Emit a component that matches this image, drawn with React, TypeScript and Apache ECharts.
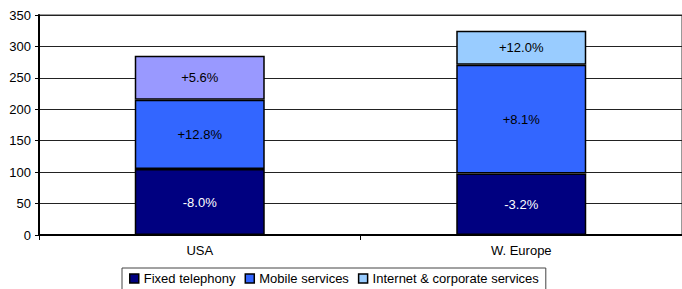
import React, { useEffect, useRef } from "react";
import * as echarts from "echarts";

const categories = ["USA", "W. Europe"];
const fixedValues = [105, 98];
const mobileValues = [110, 173];
const internetValues = [70, 54];
const fixedLabels = ["-8.0%", "-3.2%"];
const mobileLabels = ["+12.8%", "+8.1%"];
const internetLabels = ["+5.6%", "+12.0%"];
const internetPointColors = ["#9999FF", "#99CCFF"];
const seriesNames = ["Fixed telephony", "Mobile services", "Internet & corporate services"];
const seriesColors = ["#000080", "#3366FF", "#99CCFF"];

const FONT = "Liberation Sans, Arial, sans-serif";

export default function App() {
  const ref = useRef<HTMLDivElement>(null);
  useEffect(() => {
    if (!ref.current) return;
    const chart = echarts.init(ref.current, null, { renderer: "svg" });
    const mk = (vals: number[], labels: string[], idx: number, textColor: string, pointColors?: string[]) => ({
      name: seriesNames[idx],
      type: "bar",
      stack: "total",
      barWidth: 130,
      itemStyle: { color: seriesColors[idx], borderColor: "#000", borderWidth: 1.5 },
      label: {
        show: true,
        position: "inside",
        color: textColor,
        fontSize: 13,
        fontFamily: FONT,
        formatter: (p: any) => labels[p.dataIndex],
      },
      data: vals.map((v, i) => ({
        value: v,
        itemStyle: pointColors ? { color: pointColors[i] } : undefined,
      })),
    });
    chart.setOption({
      animation: false,
      textStyle: { fontFamily: FONT },
      grid: {
        left: 39,
        right: -9,
        top: 15,
        bottom: 54,
        show: true,
        borderColor: "#999",
        borderWidth: 2,
      },
      legend: {
        left: 122,
        top: 268,
        padding: [4, 7, 10, 7],
        borderColor: "#444",
        borderWidth: 1,
        itemWidth: 9,
        itemHeight: 9,
        itemGap: 9,
        icon: "rect",
        textStyle: { fontSize: 13, color: "#000", fontFamily: FONT },
        data: seriesNames.map((n, i) => ({
          name: n,
          itemStyle: { color: seriesColors[i], borderColor: "#000", borderWidth: 1.5 },
        })),
      },
      xAxis: {
        type: "category",
        data: categories,
        axisLine: { lineStyle: { color: "#000", width: 2 } },
        axisTick: { show: true, length: 5, lineStyle: { color: "#000" } },
        axisLabel: { color: "#000", fontSize: 13, fontFamily: FONT, margin: 9 },
      },
      yAxis: {
        type: "value",
        min: 0,
        max: 350,
        interval: 50,
        axisLine: { show: true, lineStyle: { color: "#000", width: 2 } },
        axisTick: { show: true, length: 4, lineStyle: { color: "#000" } },
        axisLabel: { color: "#000", fontSize: 13, fontFamily: FONT, margin: 8 },
        splitLine: { show: true, lineStyle: { color: "#222", width: 1 } },
      },
      series: [
        mk(fixedValues, fixedLabels, 0, "#fff"),
        mk(mobileValues, mobileLabels, 1, "#000"),
        mk(internetValues, internetLabels, 2, "#000", internetPointColors),
      ],
    });
    return () => chart.dispose();
  }, []);
  return (
    <div
      ref={ref}
      style={{ position: "fixed", left: 0, top: 0, width: 682, height: 289, background: "#fff" }}
    />
  );
}
